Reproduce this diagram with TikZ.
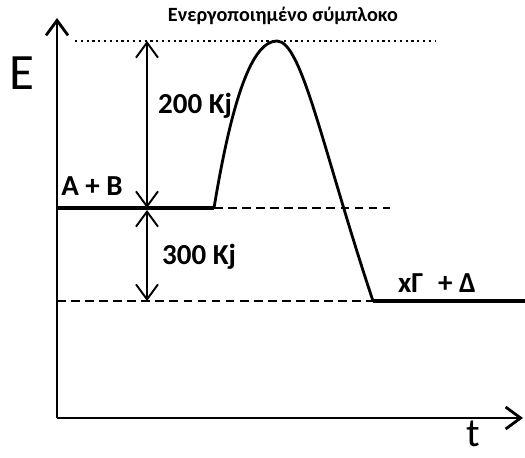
\documentclass[tikz,border=0pt]{standalone}
\usepackage{fontspec}
\setmainfont{Carlito}
\usetikzlibrary{arrows.meta}

\begin{document}
\begin{tikzpicture}[>={Straight Barb[length=3mm,width=4.4mm]},
    lbl/.style={font=\fontsize{16.5}{18}\selectfont\bfseries},
    level/.style={line width=2.2pt},
    guide/.style={line width=1.1pt,dashed,dash pattern=on 5pt off 3pt}]
    \useasboundingbox (0,0) rectangle (10.5,9.14);
    \coordinate (O) at (1.14,0.78);
    \coordinate (ytop) at (1.14,8.78);
    \coordinate (xend) at (10.46,0.78);
    \coordinate (rstart) at (1.14,4.98);
    \coordinate (rend) at (4.28,4.98);
    \coordinate (rdash) at (7.8,4.98);
    \coordinate (peak) at (5.54,8.32);
    \coordinate (pstart) at (7.46,3.12);
    \coordinate (pend) at (10.5,3.12);
    \coordinate (pdash) at (1.14,3.12);
    \coordinate (tleft) at (1.5,8.32);
    \coordinate (tright) at (8.7,8.32);
    \coordinate (atop) at (2.94,8.32);
    \coordinate (amid) at (2.94,4.98);
    \coordinate (amid2) at (2.94,4.94);
    \coordinate (abot) at (2.94,3.12);
    \draw[line width=1.6pt,->] (O) -- (ytop);
    \draw[line width=1.6pt,->] (O) -- (xend);
    \node (E) at (0.44,7.68) {\fontsize{29}{31}\selectfont E};
    \node[anchor=base,inner sep=0pt] (t) at (9.46,0.22) {\fontsize{23}{25}\selectfont t};
    \draw[line width=1.3pt,dotted] (tleft) -- (tright);
    \node[font=\fontsize{11.5}{13}\selectfont\bfseries] (ts) at (5.66,8.82) {Ενεργοποιημένο σύμπλοκο};
    \draw[level] (rstart) -- (rend);
    \draw[guide] (rend) -- (rdash);
    \draw[guide] (pdash) -- (pstart);
    \draw[level] (pstart) -- (pend);
    \draw[line width=1.6pt] (rend) .. controls (4.64,7.16) and (5.04,8.32) .. (peak)
        .. controls (6.04,8.32) and (6.46,6.12) .. (pstart);
    \draw[line width=1.1pt,<->] (atop) -- (amid);
    \draw[line width=1.1pt,<->] (amid2) -- (abot);
    \node[lbl,anchor=west] (ea) at (3.04,7.02) {200 Kj};
    \node[lbl,anchor=west] (dh) at (3.12,4.0) {300 Kj};
    \node[lbl] (ab) at (1.84,5.42) {A + B};
    \node[lbl] (gd) at (8.74,3.48) {xΓ\hspace{0.3cm}+ Δ};
\end{tikzpicture}
\end{document}
